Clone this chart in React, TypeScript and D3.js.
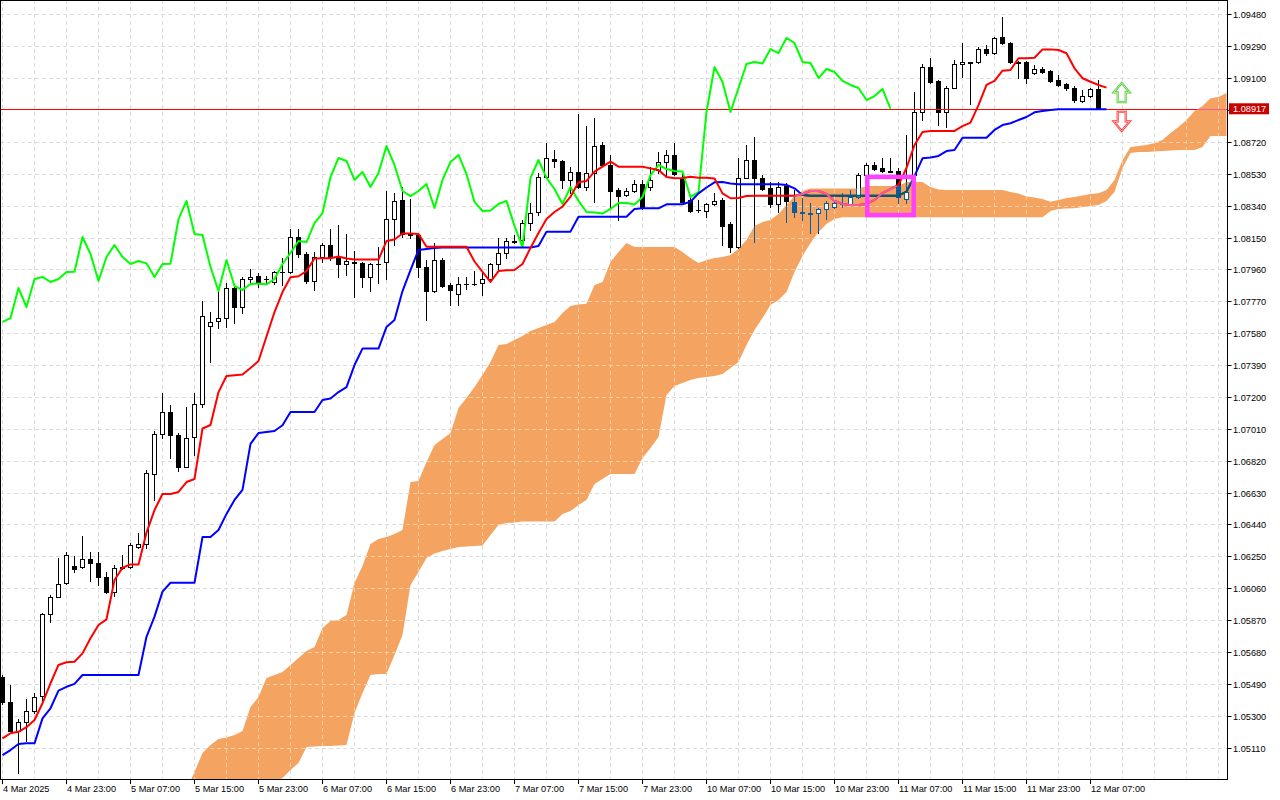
import React, { useRef, useEffect } from 'react';
import * as d3 from 'd3';

// Hourly candles, 4 Mar 15:00 .. 12 Mar 08:00 (bar index 0..137)
const opens = [
  1.05531, 1.05382, 1.05210, 1.05263, 1.05329, 1.05418, 1.05907, 1.06008, 1.06091, 1.06193,
  1.06187, 1.06234, 1.06211, 1.06127, 1.06038, 1.06181, 1.06187, 1.06306, 1.06324, 1.06741,
  1.06979, 1.07110, 1.06973, 1.06783, 1.06961, 1.07158, 1.07623, 1.07652, 1.07670, 1.07849,
  1.07736, 1.07903, 1.07921, 1.07900, 1.07885, 1.07944, 1.07945, 1.08153, 1.08052, 1.07891,
  1.08034, 1.08105, 1.08034, 1.07992, 1.08006, 1.07998, 1.07915, 1.07992, 1.08004, 1.08260,
  1.08374, 1.08171, 1.08165, 1.07974, 1.07831, 1.08016, 1.07867, 1.07813, 1.07873, 1.07873,
  1.07879, 1.07903, 1.07992, 1.08058, 1.08129, 1.08135, 1.08236, 1.08302, 1.08510, 1.08618,
  1.08606, 1.08493, 1.08540, 1.08451, 1.08534, 1.08701, 1.08582, 1.08433, 1.08403, 1.08427,
  1.08469, 1.08451, 1.08552, 1.08600, 1.08642, 1.08499, 1.08374, 1.08314, 1.08308, 1.08350,
  1.08374, 1.08231, 1.08093, 1.08505, 1.08612, 1.08505, 1.08445, 1.08350, 1.08457, 1.08362,
  1.08302, 1.08296, 1.08296, 1.08320, 1.08332, 1.08350, 1.08350, 1.08391, 1.08522, 1.08582,
  1.08564, 1.08546, 1.08546, 1.08379, 1.08522, 1.08898, 1.09166, 1.09083, 1.08898, 1.09041,
  1.09184, 1.09196, 1.09196, 1.09273, 1.09249, 1.09345, 1.09309, 1.09196, 1.09196, 1.09130,
  1.09154, 1.09142, 1.09089, 1.09065, 1.09041, 1.08963, 1.08993, 1.09035,
];
const highs = [
  1.05543, 1.05484, 1.05281, 1.05400, 1.05436, 1.05913, 1.06020, 1.06240, 1.06276, 1.06252,
  1.06371, 1.06276, 1.06276, 1.06157, 1.06199, 1.06258, 1.06330, 1.06389, 1.06765, 1.06997,
  1.07223, 1.07152, 1.06985, 1.07140, 1.07223, 1.07772, 1.07706, 1.07837, 1.07879, 1.07855,
  1.07915, 1.07962, 1.07939, 1.07921, 1.07950, 1.08028, 1.08201, 1.08201, 1.08064, 1.08064,
  1.08117, 1.08201, 1.08225, 1.08171, 1.08070, 1.08004, 1.07998, 1.08093, 1.08427, 1.08415,
  1.08451, 1.08379, 1.08171, 1.08016, 1.08117, 1.08028, 1.07879, 1.07915, 1.07915, 1.07950,
  1.07939, 1.07998, 1.08147, 1.08147, 1.08165, 1.08254, 1.08356, 1.08534, 1.08713, 1.08671,
  1.08612, 1.08570, 1.08886, 1.08814, 1.08862, 1.08719, 1.08642, 1.08445, 1.08445, 1.08493,
  1.08493, 1.08570, 1.08660, 1.08671, 1.08713, 1.08534, 1.08397, 1.08374, 1.08356, 1.08415,
  1.08385, 1.08242, 1.08624, 1.08701, 1.08749, 1.08522, 1.08481, 1.08481, 1.08475, 1.08433,
  1.08385, 1.08356, 1.08326, 1.08368, 1.08374, 1.08415, 1.08433, 1.08534, 1.08594, 1.08600,
  1.08624, 1.08624, 1.08564, 1.08761, 1.09017, 1.09184, 1.09220, 1.09089, 1.09053, 1.09208,
  1.09309, 1.09198, 1.09285, 1.09297, 1.09345, 1.09464, 1.09315, 1.09202, 1.09202, 1.09178,
  1.09166, 1.09148, 1.09118, 1.09071, 1.09053, 1.09029, 1.09041, 1.09089,
];
const lows = [
  1.05370, 1.05210, 1.04959, 1.05150, 1.05317, 1.05376, 1.05859, 1.06008, 1.06085, 1.06157,
  1.06181, 1.06103, 1.06079, 1.06032, 1.06014, 1.06175, 1.06181, 1.06300, 1.06300, 1.06586,
  1.06955, 1.06836, 1.06759, 1.06783, 1.06854, 1.07140, 1.07408, 1.07611, 1.07617, 1.07641,
  1.07700, 1.07879, 1.07855, 1.07879, 1.07873, 1.07867, 1.07939, 1.08034, 1.07879, 1.07837,
  1.08004, 1.08016, 1.07915, 1.07927, 1.07796, 1.07855, 1.07831, 1.07879, 1.07903, 1.08105,
  1.08153, 1.08147, 1.07915, 1.07658, 1.07825, 1.07855, 1.07748, 1.07748, 1.07843, 1.07867,
  1.07807, 1.07885, 1.07956, 1.08028, 1.08117, 1.08093, 1.08195, 1.08284, 1.08505, 1.08570,
  1.08445, 1.08415, 1.08445, 1.08433, 1.08362, 1.08576, 1.08326, 1.08254, 1.08397, 1.08421,
  1.08320, 1.08433, 1.08534, 1.08522, 1.08522, 1.08362, 1.08302, 1.08302, 1.08272, 1.08344,
  1.08105, 1.08064, 1.08088, 1.08505, 1.08123, 1.08433, 1.08332, 1.08302, 1.08242, 1.08272,
  1.08254, 1.08177, 1.08177, 1.08260, 1.08326, 1.08332, 1.08344, 1.08385, 1.08510, 1.08552,
  1.08540, 1.08540, 1.08356, 1.08356, 1.08505, 1.08850, 1.09071, 1.08820, 1.08808, 1.09041,
  1.09106, 1.08945, 1.09190, 1.09237, 1.09243, 1.09303, 1.09190, 1.09100, 1.09071, 1.09124,
  1.09130, 1.09077, 1.09053, 1.09029, 1.08957, 1.08957, 1.08987, 1.08917,
];
const closes = [
  1.05382, 1.05210, 1.05263, 1.05329, 1.05412, 1.05907, 1.06008, 1.06085, 1.06258, 1.06175,
  1.06234, 1.06211, 1.06127, 1.06038, 1.06181, 1.06187, 1.06318, 1.06324, 1.06747, 1.06979,
  1.07110, 1.06973, 1.06783, 1.06955, 1.07158, 1.07682, 1.07647, 1.07670, 1.07849, 1.07736,
  1.07903, 1.07915, 1.07885, 1.07903, 1.07945, 1.07946, 1.08153, 1.08052, 1.07891, 1.08034,
  1.08105, 1.08034, 1.07992, 1.08010, 1.07996, 1.07915, 1.07992, 1.07994, 1.08260, 1.08368,
  1.08171, 1.08165, 1.07974, 1.07831, 1.08016, 1.07861, 1.07837, 1.07873, 1.07875, 1.07871,
  1.07903, 1.07992, 1.08058, 1.08129, 1.08123, 1.08236, 1.08296, 1.08510, 1.08624, 1.08606,
  1.08493, 1.08540, 1.08451, 1.08534, 1.08695, 1.08582, 1.08427, 1.08397, 1.08427, 1.08469,
  1.08326, 1.08493, 1.08600, 1.08642, 1.08528, 1.08362, 1.08308, 1.08311, 1.08350, 1.08368,
  1.08219, 1.08093, 1.08505, 1.08612, 1.08505, 1.08439, 1.08350, 1.08451, 1.08368, 1.08302,
  1.08299, 1.08293, 1.08320, 1.08356, 1.08356, 1.08347, 1.08391, 1.08522, 1.08582, 1.08558,
  1.08546, 1.08543, 1.08391, 1.08421, 1.08898, 1.09166, 1.09077, 1.08898, 1.09041, 1.09184,
  1.09196, 1.09187, 1.09273, 1.09249, 1.09339, 1.09309, 1.09196, 1.09190, 1.09100, 1.09154,
  1.09136, 1.09083, 1.09059, 1.09041, 1.08969, 1.08993, 1.09035, 1.08917,
];

// Ichimoku Tenkan-sen / Kijun-sen (bars 0..138)
const tenkan = [
  1.05166, 1.05196, 1.05205, 1.05232, 1.05275, 1.05375, 1.05494, 1.05603, 1.05619, 1.05622,
  1.05672, 1.05762, 1.05841, 1.05875, 1.06109, 1.06182, 1.06202, 1.06202, 1.06392, 1.06526,
  1.06622, 1.06622, 1.06634, 1.06693, 1.06711, 1.07012, 1.07033, 1.07229, 1.07325, 1.07329,
  1.07334, 1.07372, 1.07414, 1.07560, 1.07706, 1.07825, 1.07913, 1.07919, 1.07950, 1.08025,
  1.08026, 1.08026, 1.08037, 1.08025, 1.08019, 1.08019, 1.08019, 1.08019, 1.08129, 1.08138,
  1.08174, 1.08174, 1.08171, 1.08095, 1.08095, 1.08095, 1.08095, 1.08095, 1.08095, 1.08007,
  1.07945, 1.07886, 1.07950, 1.07955, 1.07956, 1.07992, 1.08088, 1.08177, 1.08260, 1.08302,
  1.08334, 1.08393, 1.08479, 1.08487, 1.08542, 1.08572, 1.08602, 1.08572, 1.08572, 1.08572,
  1.08572, 1.08562, 1.08552, 1.08510, 1.08503, 1.08505, 1.08512, 1.08506, 1.08506, 1.08502,
  1.08413, 1.08384, 1.08385, 1.08397, 1.08399, 1.08399, 1.08399, 1.08399, 1.08399, 1.08399,
  1.08409, 1.08427, 1.08427, 1.08409, 1.08368, 1.08350, 1.08344, 1.08344, 1.08350, 1.08374,
  1.08415, 1.08439, 1.08463, 1.08564, 1.08701, 1.08779, 1.08785, 1.08785, 1.08785, 1.08785,
  1.08814, 1.08835, 1.08939, 1.09059, 1.09083, 1.09144, 1.09148, 1.09218, 1.09218, 1.09221,
  1.09271, 1.09271, 1.09267, 1.09248, 1.09158, 1.09099, 1.09078, 1.09059, 1.09043,
];
const kijun = [
  1.05066, 1.05096, 1.05132, 1.05136, 1.05136, 1.05285, 1.05345, 1.05450, 1.05473, 1.05490,
  1.05543, 1.05543, 1.05543, 1.05543, 1.05543, 1.05543, 1.05543, 1.05543, 1.05771, 1.05891,
  1.06040, 1.06093, 1.06093, 1.06093, 1.06093, 1.06365, 1.06365, 1.06407, 1.06503, 1.06586,
  1.06646, 1.06920, 1.06985, 1.06991, 1.06997, 1.07031, 1.07110, 1.07110, 1.07110, 1.07110,
  1.07182, 1.07191, 1.07229, 1.07259, 1.07390, 1.07488, 1.07488, 1.07488, 1.07617, 1.07658,
  1.07831, 1.07956, 1.08076, 1.08082, 1.08088, 1.08091, 1.08091, 1.08091, 1.08091, 1.08091,
  1.08091, 1.08091, 1.08091, 1.08091, 1.08091, 1.08091, 1.08091, 1.08099, 1.08185, 1.08185,
  1.08185, 1.08185, 1.08274, 1.08274, 1.08274, 1.08274, 1.08274, 1.08274, 1.08274, 1.08320,
  1.08324, 1.08324, 1.08324, 1.08348, 1.08348, 1.08348, 1.08363, 1.08413, 1.08448, 1.08479,
  1.08481, 1.08472, 1.08467, 1.08467, 1.08467, 1.08467, 1.08467, 1.08467, 1.08463, 1.08443,
  1.08403, 1.08399, 1.08399, 1.08399, 1.08399, 1.08399, 1.08399, 1.08399, 1.08399, 1.08399,
  1.08399, 1.08399, 1.08399, 1.08423, 1.08516, 1.08622, 1.08627, 1.08636, 1.08665, 1.08671,
  1.08744, 1.08744, 1.08744, 1.08744, 1.08791, 1.08820, 1.08831, 1.08850, 1.08868, 1.08896,
  1.08904, 1.08910, 1.08914, 1.08914, 1.08914, 1.08914, 1.08914, 1.08914, 1.08914,
];
// Chikou span = close plotted 26 bars back
const chikouShift = 26;

// Kumo spans (already shifted forward), first value at bar 23
const cloudStart = 23;
const senkouA = [
  1.04858, 1.04965, 1.05078, 1.05126, 1.05162, 1.05171, 1.05186, 1.05210, 1.05352, 1.05412,
  1.05525, 1.05543, 1.05561, 1.05603, 1.05644, 1.05686, 1.05710, 1.05823, 1.05865, 1.05871,
  1.05901, 1.06091, 1.06193, 1.06324, 1.06354, 1.06365, 1.06383, 1.06407, 1.06693, 1.06699,
  1.06812, 1.06914, 1.06949, 1.06985, 1.07134, 1.07194, 1.07259, 1.07331, 1.07408, 1.07509,
  1.07515, 1.07539, 1.07563, 1.07593, 1.07611, 1.07629, 1.07647, 1.07700, 1.07742, 1.07751,
  1.07756, 1.07867, 1.07885, 1.08004, 1.08064, 1.08117, 1.08094, 1.08094, 1.08094, 1.08094,
  1.08094, 1.08094, 1.08064, 1.08028, 1.07998, 1.08016, 1.08028, 1.08034, 1.08046, 1.08082,
  1.08135, 1.08219, 1.08242, 1.08254, 1.08290, 1.08344, 1.08397, 1.08427, 1.08442, 1.08442,
  1.08442, 1.08442, 1.08442, 1.08442, 1.08442, 1.08457, 1.08457, 1.08457, 1.08457, 1.08457,
  1.08481, 1.08481, 1.08481, 1.08451, 1.08436, 1.08433, 1.08433, 1.08433, 1.08433, 1.08433,
  1.08433, 1.08433, 1.08433, 1.08421, 1.08412, 1.08394, 1.08388, 1.08379, 1.08363, 1.08374,
  1.08385, 1.08391, 1.08400, 1.08409, 1.08413, 1.08433, 1.08493, 1.08612, 1.08689, 1.08695,
  1.08701, 1.08713, 1.08731, 1.08773, 1.08808, 1.08850, 1.08904, 1.08934, 1.08980, 1.08987,
  1.09011,
];
const senkouB = [
  1.04381, 1.04441, 1.04500, 1.04560, 1.04620, 1.04679, 1.04739, 1.04798, 1.04828, 1.04858,
  1.04882, 1.04906, 1.04929, 1.04977, 1.05019, 1.05114, 1.05117, 1.05120, 1.05120, 1.05123,
  1.05126, 1.05317, 1.05436, 1.05543, 1.05549, 1.05549, 1.05662, 1.05781, 1.06079, 1.06157,
  1.06240, 1.06267, 1.06282, 1.06294, 1.06306, 1.06309, 1.06312, 1.06315, 1.06377, 1.06437,
  1.06449, 1.06452, 1.06458, 1.06458, 1.06458, 1.06458, 1.06458, 1.06503, 1.06520, 1.06556,
  1.06586, 1.06681, 1.06711, 1.06741, 1.06741, 1.06741, 1.06741, 1.06836, 1.06896, 1.06961,
  1.07212, 1.07265, 1.07283, 1.07301, 1.07313, 1.07319, 1.07325, 1.07337, 1.07372, 1.07408,
  1.07509, 1.07599, 1.07670, 1.07748, 1.07778, 1.07825, 1.07945, 1.08040, 1.08117, 1.08183,
  1.08231, 1.08260, 1.08270, 1.08270, 1.08270, 1.08270, 1.08270, 1.08270, 1.08270, 1.08270,
  1.08270, 1.08270, 1.08270, 1.08270, 1.08270, 1.08270, 1.08270, 1.08270, 1.08270, 1.08270,
  1.08270, 1.08270, 1.08270, 1.08270, 1.08270, 1.08270, 1.08270, 1.08270, 1.08308, 1.08320,
  1.08323, 1.08324, 1.08332, 1.08338, 1.08344, 1.08368, 1.08421, 1.08564, 1.08654, 1.08660,
  1.08660, 1.08663, 1.08666, 1.08668, 1.08671, 1.08671, 1.08671, 1.08689, 1.08755, 1.08755,
  1.08755,
];

const timeTickBars = [0, 8, 16, 24, 32, 40, 48, 56, 64, 72, 80, 88, 96, 104, 112, 120, 128, 136];
const timeTickLabels = [
  '4 Mar 2025', '4 Mar 23:00', '5 Mar 07:00', '5 Mar 15:00', '5 Mar 23:00', '6 Mar 07:00',
  '6 Mar 15:00', '6 Mar 23:00', '7 Mar 07:00', '7 Mar 15:00', '7 Mar 23:00', '10 Mar 07:00',
  '10 Mar 15:00', '10 Mar 23:00', '11 Mar 07:00', '11 Mar 15:00', '11 Mar 23:00', '12 Mar 07:00',
];
const priceTicks = [
  1.0511, 1.053, 1.0549, 1.0568, 1.0587, 1.0606, 1.0625, 1.0644, 1.0663, 1.0682, 1.0701, 1.072,
  1.0739, 1.0758, 1.0777, 1.0796, 1.0815, 1.0834, 1.0853, 1.0872, 1.0891, 1.091, 1.0929, 1.0948,
];
const lastPrice = 1.08917;

// annotations
const boxBars = [108.1, 113.9];
const boxPrices = [1.08511, 1.08284];
const arrowBar = 139.9;
const upArrow = [1.09071, 1.08957];
const downArrow = [1.08898, 1.08785];

const W = 1280;
const H = 800;
const plotRight = 1227;
const plotBottom = 779;
const font = 'Liberation Sans, Arial, sans-serif';

// colours as they come out over the kumo fill (xor with the cloud)
const overKumo = (color: string) => {
  const c = d3.rgb(color);
  return d3.rgb(c.r ^ 11, c.g ^ 91, c.b ^ 159).formatHex();
};

const IchimokuChart: React.FC = () => {
  const svgRef = useRef<SVGSVGElement>(null);

  useEffect(() => {
    const svg = d3.select(svgRef.current);
    svg.selectAll('*').remove();

    const x = d3.scaleLinear().domain([0, 153]).range([2.5, 1226.5]);
    const y = d3.scaleLinear().domain([1.049235, 1.095652]).range([plotBottom, 0]);
    const snap = (v: number) => Math.round(v) + 0.5;

    const kumo = d3.area<number>()
      .x(i => x(cloudStart + i))
      .y0(i => y(senkouB[i]))
      .y1(i => y(senkouA[i]));
    const cloudIdx = d3.range(senkouA.length);

    const defs = svg.append('defs');
    defs.append('clipPath').attr('id', 'plot-clip')
      .append('rect').attr('width', plotRight).attr('height', plotBottom);
    defs.append('clipPath').attr('id', 'kumo-clip')
      .append('path').attr('d', kumo(cloudIdx));

    svg.append('rect').attr('width', W).attr('height', H).attr('fill', '#ffffff');

    const plot = svg.append('g').attr('clip-path', 'url(#plot-clip)');

    const drawGrid = (g: any, color: string) => {
      const gg = g.append('g').attr('stroke', color).attr('stroke-width', 1).attr('stroke-dasharray', '4,3');
      d3.range(0, 154, 4).forEach(b => {
        gg.append('line').attr('x1', x(b)).attr('x2', x(b)).attr('y1', 0).attr('y2', plotBottom);
      });
      priceTicks
        .filter(p => Math.abs(y(p) - y(lastPrice)) > 3)
        .forEach(p => {
          gg.append('line').attr('x1', 0).attr('x2', plotRight).attr('y1', snap(y(p))).attr('y2', snap(y(p)));
        });
    };

    const line = d3.line<number>().x((_, i) => x(i)).y(d => y(d));

    const drawLayer = (g: any, paint: (c: string) => string) => {
      const candles = g.append('g');
      opens.forEach((o, i) => {
        const c = closes[i];
        const cx = x(i);
        const ink = paint('#000000');
        const top = Math.round(y(Math.max(o, c)));
        const bot = Math.round(y(Math.min(o, c)));
        candles.append('line')
          .attr('x1', cx).attr('x2', cx)
          .attr('y1', Math.round(y(highs[i]))).attr('y2', Math.round(y(lows[i])) + 1)
          .attr('stroke', ink);
        if (bot - top < 1) {
          candles.append('line')
            .attr('x1', cx - 2.5).attr('x2', cx + 2.5)
            .attr('y1', top + 0.5).attr('y2', top + 0.5)
            .attr('stroke', ink);
        } else {
          candles.append('rect')
            .attr('x', cx - 2).attr('y', top + 0.5)
            .attr('width', 4).attr('height', bot - top)
            .attr('fill', c >= o ? '#ffffff' : ink)
            .attr('stroke', ink);
        }
      });

      // bid line
      g.append('rect')
        .attr('x', 0).attr('y', Math.round(y(lastPrice)))
        .attr('width', plotRight).attr('height', 1)
        .attr('fill', paint('#ff0000'))
        .attr('shape-rendering', 'crispEdges');

      const series: [number[], string][] = [
        [closes.slice(chikouShift), '#00ff00'],
        [kijun, '#0000ff'],
        [tenkan, '#ff0000'],
      ];
      series.forEach(([data, color]) => {
        g.append('path')
          .attr('d', line(data))
          .attr('fill', 'none')
          .attr('stroke', paint(color))
          .attr('stroke-width', 2)
          .attr('stroke-linejoin', 'round');
      });
    };

    drawGrid(plot, '#dcdcdc');
    plot.append('path').attr('d', kumo(cloudIdx)).attr('fill', '#f4a460');
    drawLayer(plot, c => c);

    const over = plot.append('g').attr('clip-path', 'url(#kumo-clip)');
    drawGrid(over, '#f8cfa6');
    drawLayer(over, overKumo);

    // highlight box
    plot.append('rect')
      .attr('x', x(boxBars[0])).attr('y', y(boxPrices[0]))
      .attr('width', x(boxBars[1]) - x(boxBars[0]))
      .attr('height', y(boxPrices[1]) - y(boxPrices[0]))
      .attr('fill', 'none').attr('stroke', '#ff40ff').attr('stroke-width', 4.5);

    // buy / sell arrows
    const arrow = (tip: number, base: number) => {
      const cx = x(arrowBar);
      const dir = base > tip ? 1 : -1;
      const neck = tip + dir * 9.5;
      return `M${cx},${tip} L${cx + 8},${neck} L${cx + 4},${neck} L${cx + 4},${base} L${cx - 4},${base} L${cx - 4},${neck} L${cx - 8},${neck} Z`;
    };
    const upPath = arrow(y(upArrow[0]), y(upArrow[1]));
    const downPath = arrow(y(downArrow[1]), y(downArrow[0]));
    plot.append('path').attr('d', upPath).attr('fill', '#ffffff').attr('stroke', '#52cc52').attr('stroke-width', 2.2);
    plot.append('path').attr('d', upPath).attr('fill', 'none').attr('stroke', '#dff58a').attr('stroke-width', 0.8);
    plot.append('path').attr('d', downPath).attr('fill', '#ffffff').attr('stroke', '#ff3a3a').attr('stroke-width', 2.2);
    plot.append('path').attr('d', downPath).attr('fill', 'none').attr('stroke', '#ffc0c0').attr('stroke-width', 0.8);

    // frame
    svg.append('rect')
      .attr('x', 0.5).attr('y', 0.5)
      .attr('width', plotRight).attr('height', plotBottom)
      .attr('fill', 'none').attr('stroke', '#000000');

    // price axis
    const yAxis = svg.append('g').attr('font-family', font).attr('font-size', 9.2).attr('fill', '#000000');
    priceTicks.forEach(p => {
      const py = snap(y(p));
      yAxis.append('line').attr('x1', plotRight + 0.5).attr('x2', plotRight + 4.5).attr('y1', py).attr('y2', py).attr('stroke', '#000000');
      if (Math.abs(y(p) - y(lastPrice)) > 8) {
        yAxis.append('text').attr('x', plotRight + 6).attr('y', py + 3.3).text(p.toFixed(5));
      }
    });
    const ly = y(lastPrice);
    yAxis.append('rect').attr('x', plotRight + 2).attr('y', ly - 5.5).attr('width', 40).attr('height', 11).attr('fill', '#c80000');
    yAxis.append('text').attr('x', plotRight + 6).attr('y', ly + 3.5).attr('fill', '#ffffff').text(lastPrice.toFixed(5));

    // time axis
    const xAxis = svg.append('g').attr('font-family', font).attr('font-size', 9.2).attr('fill', '#000000');
    timeTickBars.forEach((b, k) => {
      const tx = x(b);
      xAxis.append('line').attr('x1', tx).attr('x2', tx).attr('y1', plotBottom + 0.5).attr('y2', plotBottom + 5).attr('stroke', '#000000');
      xAxis.append('text').attr('x', tx + 0.5).attr('y', plotBottom + 13).text(timeTickLabels[k]);
    });
  }, []);

  return (
    <div style={{ position: 'absolute', left: 0, top: 0 }}>
      <svg ref={svgRef} width={W} height={H} style={{ display: 'block' }} />
    </div>
  );
};

export default function App() {
  return <IchimokuChart />;
}
